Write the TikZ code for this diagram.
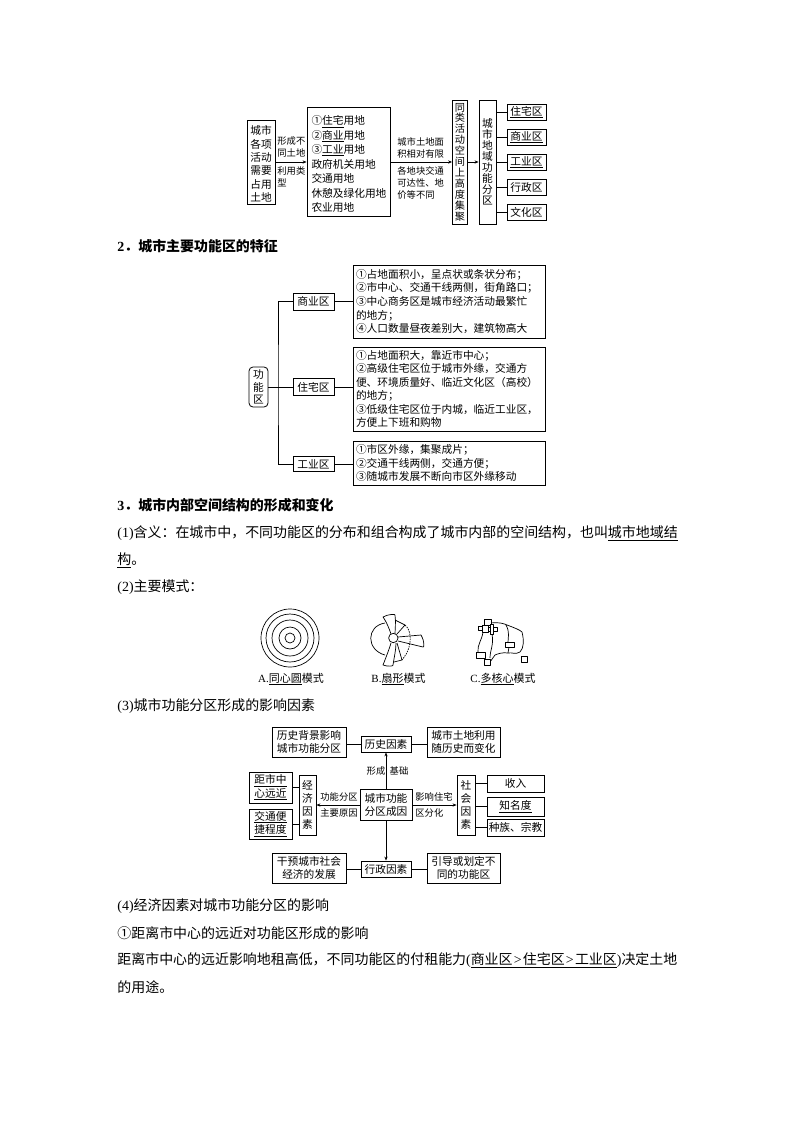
\documentclass[tikz,border=0pt]{standalone}
\usepackage{fontspec}
\setmainfont{Noto Sans CJK SC}
\newfontfamily\lat{Liberation Serif}
\usetikzlibrary{arrows.meta}
\lineskiplimit=-100pt
\normallineskiplimit=-100pt
\newcommand{\fsA}{\fontsize{10.7}{14.4}\selectfont}
\newcommand{\fsB}{\fontsize{9.3}{12}\selectfont}
\newcommand{\fsC}{\fontsize{13.95}{16}\selectfont}
\newcommand{\fsT}{\fontsize{10.2}{10.9}\selectfont}
\newcommand{\fsL}[1]{\fontsize{10.7}{#1}\selectfont}
\newcommand{\gtk}{{\lat\kern1.2pt>\kern1.2pt}}
\tikzset{
  x=1pt,y=-1pt,
  every path/.style={line width=0.8pt},
  bx/.style={draw,inner sep=0pt,align=center,font=\fsA},
  bxl/.style={draw,inner sep=0pt,align=left,font=\fsA},
  lb/.style={inner sep=0pt,font=\fsB,align=left,anchor=west},
  body/.style={inner sep=0pt,anchor=west,font=\fsC},
  hd/.style={inner sep=0pt,anchor=west,font=\fsC\bfseries},
  capt/.style={inner sep=0pt,font=\fontsize{11}{12}\selectfont},
  arr/.style={-{Stealth[length=4pt,width=3.2pt]}},
  fig/.style={line width=0.7pt,line join=round}
}
\begin{document}
\begin{tikzpicture}
\useasboundingbox (0,0) rectangle (794,1123);
% diagram 1
\node[bx,font=\fsL{13.4},minimum width=28,minimum height=84] (city) at (261,162) {\rule{0pt}{13pt}城市\\各项\\活动\\需要\\占用\\土地};
\node[bxl,font=\fsL{14.5},minimum width=83,minimum height=109,text width=74] (list) at (348.5,162) {\rule{0pt}{13pt}①\underline{住宅}用地\\②\underline{商业}用地\\③\underline{工业}用地\\政府机关用地\\交通用地\\休憩及绿化用地\\农业用地};
\node[bx,font=\fsT,minimum width=15,minimum height=124] (same) at (460,162) {同\\类\\活\\动\\空\\间\\上\\高\\度\\集\\聚};
\node[bx,font=\fsL{11},minimum width=17,minimum height=124] (area) at (487.5,162) {城\\市\\地\\域\\功\\能\\分\\区};
\node[bx,minimum width=39,minimum height=16] (q1) at (526.5,112) {\underline{住宅区}};
\node[bx,minimum width=39,minimum height=16] (q2) at (526.5,137) {\underline{商业区}};
\node[bx,minimum width=39,minimum height=16] (q3) at (526.5,162) {\underline{工业区}};
\node[bx,minimum width=39,minimum height=16] (q4) at (526.5,187) {行政区};
\node[bx,minimum width=39,minimum height=16] (q5) at (526.5,212) {文化区};
\draw[arr] (city.east) -- (list.west);
\draw[arr] (list.east) -- (same.west);
\draw[arr] (same.east) -- (area.west);
\foreach \n in {q1,q2,q3,q4,q5} \draw (area.east |- \n.west) -- (\n.west);
\node[lb] (t1) at (277,147) {形成不\\同土地};
\node[lb] (t2) at (277,177) {利用类\\型};
\node[lb] (t3) at (397,148) {城市土地面\\积相对有限};
\node[lb] (t4) at (397,183) {各地块交通\\可达性、地\\价等不同};
% heading 2
\node[hd] (h2) at (117,246) {{\lat 2}．城市主要功能区的特征};
% diagram 2
\node[bx,rounded corners=4pt,font=\fsL{12.5},minimum width=19,minimum height=40] (gn) at (258.5,387) {功\\能\\区};
\node[bx,minimum width=41,minimum height=17] (sy) at (313.5,301.5) {商业区};
\node[bx,minimum width=41,minimum height=17] (zz) at (313.5,387) {住宅区};
\node[bx,minimum width=41,minimum height=15] (gy) at (313.5,464) {工业区};
\node[bxl,font=\fsL{13.6},minimum width=192,minimum height=73,text width=186] (d1) at (449,301.5) {①占地面积小，呈点状或条状分布；\\②市中心、交通干线两侧，街角路口；\\③中心商务区是城市经济活动最繁忙\\的地方；\\④人口数量昼夜差别大，建筑物高大};
\node[bxl,font=\fsL{13.4},minimum width=192,minimum height=84,text width=186] (d2) at (449,389) {①占地面积大，靠近市中心；\\②高级住宅区位于城市外缘，交通方\\便、环境质量好、临近文化区（高校）\\的地方；\\③低级住宅区位于内城，临近工业区，\\方便上下班和购物};
\node[bxl,font=\fsL{13.4},minimum width=192,minimum height=44,text width=186] (d3) at (449,463) {①市区外缘，集聚成片；\\②交通干线两侧，交通方便；\\③随城市发展不断向市区外缘移动};
\coordinate (spine) at (278,387);
\draw (sy.west) -| (spine) |- (gy.west);
\draw (gn.east) -- (zz.west);
\draw (sy.east) -- (sy.east -| d1.west);
\draw (zz.east) -- (zz.east -| d2.west);
\draw (gy.east) -- (gy.east -| d3.west);
% text
\node[hd] (h3) at (117,505) {{\lat 3}．城市内部空间结构的形成和变化};
\node[body] (p1) at (117,533) {{\lat (1)}含义：在城市中，不同功能区的分布和组合构成了城市内部的空间结构，也叫\underline{城市地域结}};
\node[body] (p2) at (117,560) {\underline{构}。};
\node[body] (p3) at (117,587) {{\lat (2)}主要模式：};
% figure A
\foreach \r in {29,24,18,11,5} \draw[fig] (290,638) circle (\r);
\node[capt] (ca) at (291,679) {{\lat A.}\underline{同心圆}模式};
% figure B
\draw[fig] (385,623) .. controls (366,626) and (366,650) .. (385,655);
\draw[fig] (391,634) .. controls (387,622) and (383,617) .. (383,617) .. controls (388,614) and (396,614) .. (395,615) .. controls (396,622) and (395,630) .. (395,634);
\draw[fig] (391,643) .. controls (389,650) and (383,665) .. (383,665) .. controls (388,667) and (394,666) .. (393,665) .. controls (394,658) and (396,650) .. (396,643);
\draw[fig] (395,620) -- (405,625) -- (397,634);
\draw[fig] (394,662) -- (402,660) -- (397,643);
\draw[fig] (398,637) -- (421,635) .. controls (425,642) and (424,648) .. (423,647) -- (398,641);
\draw[fig,dash pattern=on 1.5pt off 1pt] (405,625) .. controls (411,630) and (411,640) .. (409,647) .. controls (408,652) and (405,656) .. (402,660);
\draw[fig,fill=white] (393.3,638) circle (4.7);
\node[capt] (cb) at (398.5,679) {{\lat B.}\underline{扇形}模式};
% figure C
\draw[fig] (490.5,623) .. controls (500,622) and (505,624) .. (507,625) .. controls (515,628) and (520,630) .. (522,632) .. controls (524,640) and (524,648) .. (520,652) .. controls (515,655) and (512,652) .. (508,653) .. controls (503,652) and (497,654) .. (495,655) -- (490,662);
\draw[fig] (506,625) .. controls (510,632) and (508,638) .. (508,642);
\draw[fig] (509,647) -- (508,653);
\draw[fig] (483,632) .. controls (482,640) and (477,645) .. (478,652);
\draw[fig] (492,634) .. controls (494,645) and (490,650) .. (490,658);
\draw[fig,fill=white] (484,619) rectangle (491,625);
\draw[fig,fill=white] (478,626) rectangle (482,630);
\draw[fig,fill=white] (482,625) rectangle (488,632);
\draw[fig,fill=white] (488,627) rectangle (497,631);
\draw[fig,fill=white] (490,624) rectangle (493,634);
\draw[fig,fill=white] (505,642) rectangle (514,647);
\draw[fig,fill=white] (476,652) rectangle (485,658);
\draw[fig,fill=white] (484,659) rectangle (490,665);
\draw[fig,fill=white] (521,656) rectangle (527,662);
\node[capt] (cc) at (503,679) {{\lat C.}\underline{多核心}模式};
\node[body] (p4) at (117,706) {{\lat (3)}城市功能分区形成的影响因素};
% diagram 4
\node[bx,font=\fsL{13.6},minimum width=74,minimum height=30] (a1) at (309,742) {历史背景影响\\城市功能分区};
\node[bx,minimum width=50,minimum height=16] (a2) at (386,744) {历史因素};
\node[bx,font=\fsL{13.6},minimum width=73,minimum height=30] (a3) at (463.5,742) {城市土地利用\\随历史而变化};
\node[bx,font=\fsL{13.6},minimum width=43,minimum height=31] (b1) at (270.5,787.5) {\underline{距市中}\\\underline{心远近}};
\node[bx,font=\fsL{13.6},minimum width=43,minimum height=30] (b2) at (270.5,824) {\underline{交通便}\\\underline{捷程度}};
\node[bx,font=\fsL{13},minimum width=17,minimum height=60] (jj) at (307.5,805) {经\\济\\因\\素};
\node[bx,font=\fsL{13.6},minimum width=52,minimum height=31] (cz) at (386,805) {城市功能\\分区成因};
\node[bx,font=\fsL{13},minimum width=18,minimum height=60] (sh) at (466,805) {社\\会\\因\\素};
\node[bx,minimum width=57,minimum height=17] (c1) at (515.5,783.5) {收入};
\node[bx,minimum width=57,minimum height=19] (c2) at (515.5,806.5) {\underline{知名度}};
\node[bx,minimum width=57,minimum height=17] (c3) at (515.5,827.5) {种族、宗教};
\node[bx,font=\fsL{13.6},minimum width=74,minimum height=30] (e1) at (309,868) {干预城市社会\\经济的发展};
\node[bx,minimum width=50,minimum height=16] (e2) at (386,869) {行政因素};
\node[bx,font=\fsL{13.6},minimum width=73,minimum height=30] (e3) at (463.5,868) {引导或划定不\\同的功能区};
\draw (a1.east |- a2.west) -- (a2.west);
\draw (a2.east) -- (a2.east -| a3.west);
\draw (e1.east |- e2.west) -- (e2.west);
\draw (e2.east) -- (e2.east -| e3.west);
\draw (b1.east) -- (b1.east -| jj.west);
\draw (b2.east) -- (b2.east -| jj.west);
\draw (c1.west -| sh.east) -- (c1.west);
\draw (c2.west -| sh.east) -- (c2.west);
\draw (c3.west -| sh.east) -- (c3.west);
\draw[arr] (cz.north) -- (a2.south);
\draw[arr] (cz.south) -- (e2.north);
\draw[arr] (cz.west) -- (jj.east);
\draw[arr] (cz.east) -- (sh.west);
\node[lb,anchor=center] (l1) at (376,771) {形成};
\node[lb,anchor=center] (l2) at (399,771) {基础};
\node[lb,anchor=center] (l3) at (339,797) {功能分区};
\node[lb,anchor=center] (l4) at (339,813) {主要原因};
\node[lb,anchor=center] (l5) at (434,797) {影响住宅};
\node[lb] (l6) at (415,813) {区分化};
% text
\node[body] (p5) at (117,906) {{\lat (4)}经济因素对城市功能分区的影响};
\node[body] (p6) at (117,933) {①距离市中心的远近对功能区形成的影响};
\node[body] (p7) at (117,960) {距离市中心的远近影响地租高低，不同功能区的付租能力{\lat (}\underline{商业区\gtk 住宅区\gtk 工业区}{\lat )}决定土地};
\node[body] (p8) at (117,987) {的用途。};
\end{tikzpicture}
\end{document}
